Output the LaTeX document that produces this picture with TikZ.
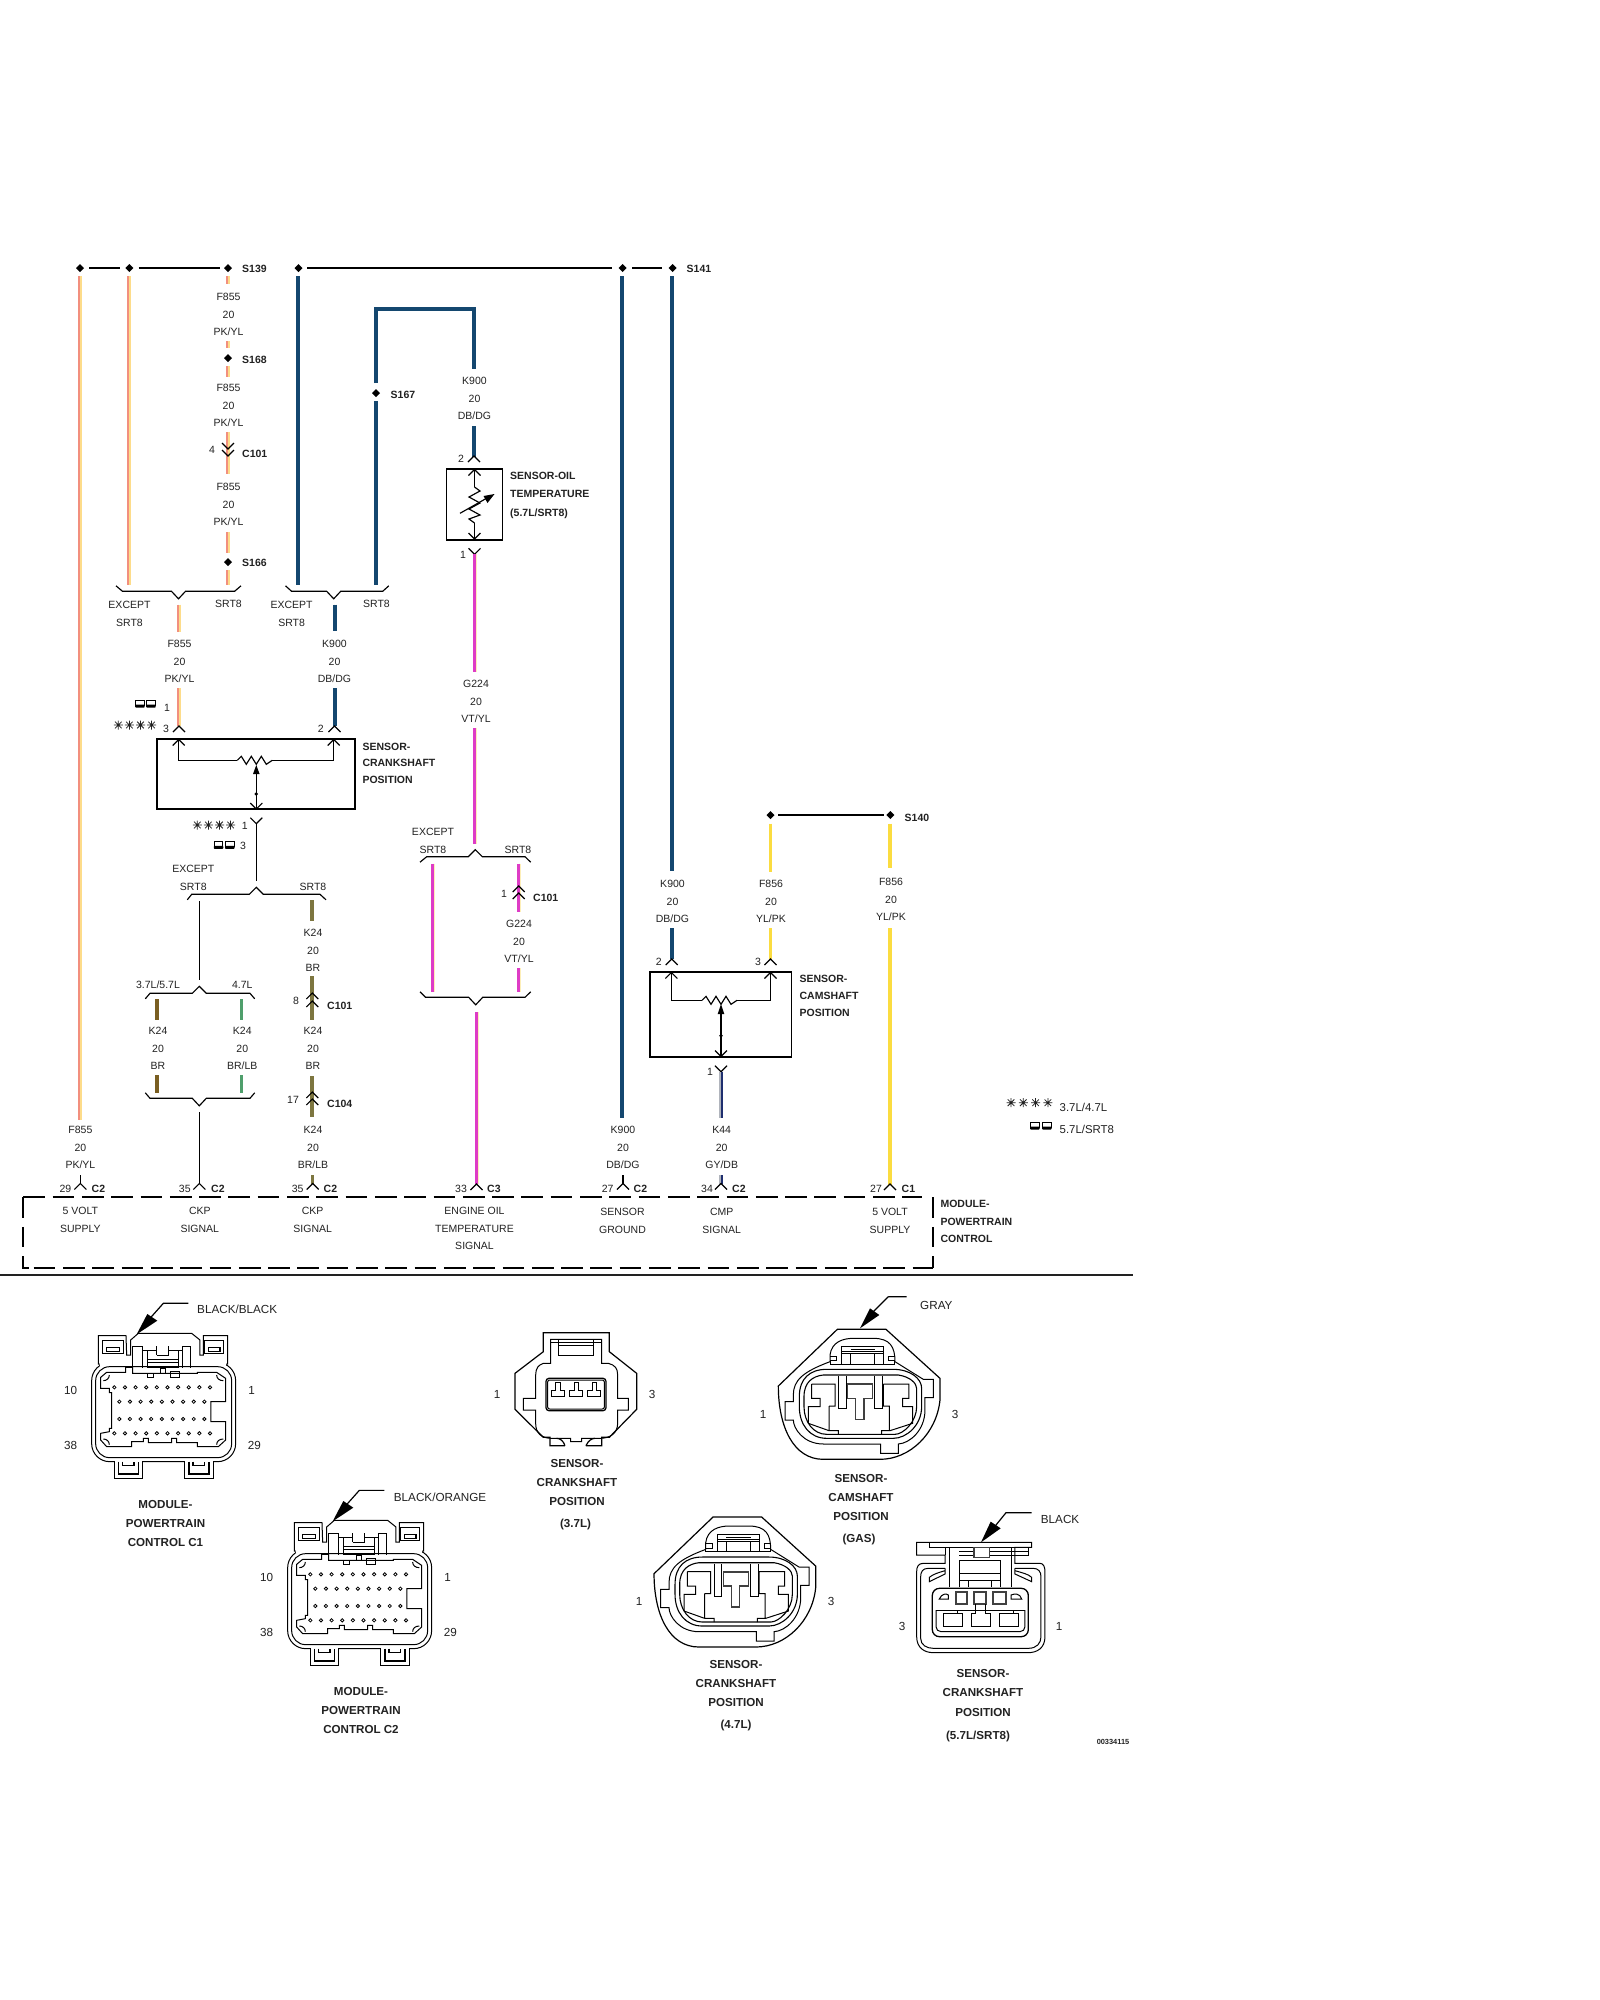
\documentclass[tikz,border=0pt]{standalone}
\usepackage{fontspec}
\setmainfont{Liberation Sans}
\definecolor{pkA}{HTML}{F28F7E}\definecolor{pkB}{HTML}{FDDC8A}
\definecolor{dbA}{HTML}{14476F}\definecolor{vtA}{HTML}{DE3CC6}\definecolor{vtB}{HTML}{FDEFB8}
\definecolor{ylA}{HTML}{FBDC40}\definecolor{olA}{HTML}{7D7640}\definecolor{brA}{HTML}{7A5F22}
\definecolor{grA}{HTML}{4F9F6C}\definecolor{gyA}{HTML}{B0B4BC}\definecolor{gyB}{HTML}{1F2F6F}
\definecolor{ink}{HTML}{222222}
\tikzset{
 lbl/.style={anchor=base,inner sep=0pt,text=ink,yshift=-3.7pt,font=\fontsize{10.5}{12}\selectfont},
 lbb/.style={lbl,font=\fontsize{10.5}{12}\bfseries\selectfont,anchor=base west},
 lbx/.style={anchor=base,inner sep=0pt,text=ink,yshift=-4.1pt,font=\fontsize{11.7}{13}\selectfont},
 lbh/.style={lbx,font=\fontsize{11.6}{13}\bfseries\selectfont},
 thin line/.style={line width=1.1pt,black,line join=miter},
 conn/.style={line width=1.15pt,black,line join=miter},
 bus/.style={line width=2pt,black},
 boxline/.style={line width=1.7pt,black},
 vtw/.style={vtA,line width=3pt},
 vtp/.style={vtB,line width=1.6pt},
 ylw/.style={ylA,line width=1.6pt},
}
\newcounter{tn}
\newcommand\Tl[3]{\stepcounter{tn}\node[lbl] (t\number\value{tn}) at (#1,#2) {#3};}
\newcommand\Bl[3]{\stepcounter{tn}\node[lbb] (t\number\value{tn}) at (#1,#2) {#3};}
\newcommand\Xl[3]{\stepcounter{tn}\node[lbx] (t\number\value{tn}) at (#1,#2) {#3};}
\newcommand\Hl[3]{\stepcounter{tn}\node[lbh] (t\number\value{tn}) at (#1,#2) {#3};}
\newcommand\WL[5]{\Tl{#1}{#2}{#3}\Tl{#1}{#2+17.5}{#4}\Tl{#1}{#2+35}{#5}}
\newcommand\wire[5]{\stepcounter{tn}\coordinate (w\number\value{tn}a) at (#3,#4);\coordinate (w\number\value{tn}b) at (#3,#5);
 \draw[line width=1.9pt,#2] ([xshift=.9pt]w\number\value{tn}a)--([xshift=.9pt]w\number\value{tn}b);
 \draw[line width=1.9pt,#1] ([xshift=-.9pt]w\number\value{tn}a)--([xshift=-.9pt]w\number\value{tn}b);}
\newcommand\splice[2]{\fill[black] (#1-4,#2)--(#1,#2-4)--(#1+4,#2)--(#1,#2+4)--cycle;}
\newcommand\cu[2]{\draw[conn] (#1-6,#2+6)--(#1,#2)--(#1+6,#2+6);}
\newcommand\cd[2]{\draw[conn] (#1-6,#2)--(#1,#2+6)--(#1+6,#2);}
\newcommand\astar[2]{\draw[line width=.75pt,ink] (#1-4.5,#2)--(#1+4.5,#2) (#1,#2-4.5)--(#1,#2+4.5) (#1-3.3,#2-3.3)--(#1+3.3,#2+3.3) (#1-3.3,#2+3.3)--(#1+3.3,#2-3.3);}
\newcommand\stars[3]{\astar{#1}{#2}\astar{#1+#3}{#2}\astar{#1+2*#3}{#2}\astar{#1+3*#3}{#2}}
\newcommand\ibox[2]{\draw[line width=.8pt,black] (#1,#2) rectangle (#1+8.5,#2+5);\fill[black,rounded corners=.8pt] (#1-.5,#2+4.5) rectangle (#1+9,#2+7.6);}
\newcommand\icons[3]{\ibox{#1}{#2}\ibox{#1+#3}{#2}}
\newcommand\zz[3]{\draw[conn] (#1,#3)--(#1+4,#3-4)--(#1+9,#3+4)--(#1+14,#3-4)--(#1+19,#3+4)--(#1+24,#3-4)--(#1+29,#3+4)--(#2,#3);}
\newcommand\brkD[7]{% x0 x1 xm xr0 xr1 y dir: horizontal bracket
 \draw[conn] (#1,#6+#7*5.5)--(#2,#6)--(#3-7,#6)--(#3,#6+#7*-7.5)--(#3+7,#6)--(#4,#6)--(#5,#6+#7*5.5);}
\newcommand\brkU[7]{\draw[conn] (#1,#6+#7*5.5)--(#2,#6)--(#3-7,#6)--(#3,#6-#7*7)--(#3+7,#6)--(#4,#6)--(#5,#6+#7*5.5);}
%
\newcommand\pmconn[2]{\begin{scope}[shift={(#1,#2)},x=.3333pt,y=-.3333pt,line width=1pt,line join=miter]
 \draw[rounded corners=18pt] (95,218) rectangle (527,515);
 \draw[rounded corners=14pt] (107,230) rectangle (515,503);
 \filldraw[fill=white] (115,222)--(115,137)--(198,137)--(200,195)--(212,195)--(212,150)--(235,130)--(395,130)--(420,150)--(420,195)--(430,195)--(430,137)--(503,137)--(503,222)--(420,222)--(212,222)--cycle;
 \draw[white,line width=4pt] (120,223)--(498,223);
 \draw[line width=1.5pt] (128,152) rectangle (190,190) (432,152) rectangle (490,190);
 \draw[line width=1.3pt] (140,172) rectangle (178,185) (445,172) rectangle (480,185);
 \draw (218,235)--(218,168)--(248,168)--(248,182)--(290,182)--(290,168) (290,195)--(325,195)--(325,168) (290,182)--(290,195) (325,182)--(368,182)--(368,168)--(392,168)--(392,235);
 \draw (248,182)--(248,235) (368,182)--(368,235) (262,182)--(262,235) (355,182)--(355,235);
 \draw (262,208)--(355,208) (262,218)--(355,218) (262,232)--(355,232);
 \draw (262,250)--(262,262)--(282,262)--(282,250) (302,235) rectangle (318,250);
 \draw[line width=1.4pt] (332,245) rectangle (358,263);
 \draw (122,295)--(122,262)--(140,247)--(197,247)--(197,232)--(218,232)--(218,250)--(412,250)--(412,247)--(470,247)--(497,265)--(497,335)--(453,335)--(453,395)--(497,395)--(497,450)--(475,470)--(412,470)--(412,458)--(350,458)--(350,445)--(335,445)--(335,458)--(265,458)--(265,445)--(250,445)--(250,455)--(215,455)--(215,470)--(140,470)--(122,450)--(122,430)--(148,425)--(148,415)--(155,415)--(155,308)--(148,308)--(148,295)--cycle;
 \draw (130,272)..controls (140,272) and (148,265)..(148,255) (490,272)..controls (478,272) and (470,265)..(470,255) (130,447)..controls (140,447) and (148,454)..(148,464) (490,447)..controls (478,447) and (470,454)..(470,464);
 \foreach \yy in {292,430}{\foreach \i in {0,...,9}{\draw[line width=.8pt] ({163+\i*31.9-5},\yy)--({163+\i*31.9},\yy-5)--({163+\i*31.9+5},\yy)--({163+\i*31.9},\yy+5)--cycle;}}
 \foreach \yy in {335,387}{\foreach \i in {0,...,8}{\draw[line width=.8pt] ({178+\i*31.9-5},\yy)--({178+\i*31.9},\yy-5)--({178+\i*31.9+5},\yy)--({178+\i*31.9},\yy+5)--cycle;}}
 \foreach \dx in {0,212}{\begin{scope}[xshift=\dx*.3333pt]
  \filldraw[fill=white] (163,514)--(163,565)--(248,565)--(248,514);
  \draw[line width=1.5pt] (175,515)--(175,552)--(235,552)--(235,515);
  \draw[line width=1.3pt] (187,515)--(187,527)--(222,527)--(222,515);\end{scope}}
 \draw[line width=1.2pt] (385,40)--(310,40)--(270,85);
 \fill[black] (230,133)--(262,72)--(292,92)--cycle;
\end{scope}}
%
\newcommand\gasconn[3]{\begin{scope}[shift={(#1,#2)},x=.3333pt,y=-.3333pt,line width=1pt,line join=miter]
 \draw[line width=1.2pt] (55,258)--(232,88)--(378,88)--(540,235)--(540,300)..controls (530,400) and (450,478)..(360,478)--(190,478)..controls (100,478) and (55,380)..(55,258)--cycle;
 \draw (75,305)--(100,305)--(100,285)..controls (100,240) and (130,215)..(210,185)--(210,165)..controls (215,125) and (250,115)..(280,115)--(340,115)..controls (390,115) and (405,140)..(405,185)--(490,238)--(520,238)--(520,293)--(495,293)--(495,330)..controls (495,390) and (450,430)..(415,432)--(415,460)--(362,460)--(362,432)--(190,432)..controls (130,432) and (100,385)..(100,360)--(75,360)--cycle;
 \draw[line width=1.1pt] (118,290)..controls (118,235) and (150,208)..(200,208)--(400,208)..controls (450,208) and (485,235)..(485,265)--(485,320)..controls (485,375) and (440,415)..(400,415)--(200,415)..controls (150,415) and (118,375)..(118,320)--cycle;
 \draw[line width=1.1pt] (132,290)..controls (132,245) and (160,228)..(190,225)--(415,225)..controls (450,230) and (470,250)..(470,265)--(470,320)..controls (470,365) and (430,403)..(405,403)--(200,403)..controls (160,403) and (132,365)..(132,320)--cycle;
 \draw (155,252)--(225,252)--(225,318)--(207,318) (155,252)--(155,295)--(180,295)--(180,320)--(145,320)--(145,370)--(207,392)--(235,392)--(235,403) (207,318)--(207,392);
 \draw (370,252)--(447,252)--(447,295)--(428,295)--(428,320)--(458,320)--(458,370)--(390,392)--(365,392)--(365,403) (370,252)--(370,318)--(388,318)--(388,392);
 \draw[line width=1.6pt,black!75] (263,252)--(338,252)--(338,295)--(312,295)--(312,358)--(287,358)--(287,295)--(263,295)--cycle;
 \draw (235,228)--(235,325)--(258,325)--(258,228) (345,228)--(345,325)--(368,325)--(368,228);
 \draw (245,192)--(245,140)--(370,140)--(370,192) (272,148)--(345,148) (245,160)--(370,160) (272,160)--(272,192) (345,160)--(345,192);
 \draw[line width=1.4pt] (245,155)--(370,155);
 \draw (210,168)--(230,168)--(230,182)--(210,182)--(210,192)--(405,192)--(405,182)--(385,182)--(385,168)--(405,168);
\end{scope}}
%
\begin{document}
\begin{tikzpicture}[x=1pt,y=-1pt]
\fill[white] (0,0) rectangle (1600,2000);
\useasboundingbox (0,0) rectangle (1600,2000);
% top bus
\draw[bus] (89,268)--(120,268) (138.5,268)--(220,268) (307,268)--(612,268) (632,268)--(662,268);
\splice{80}{268}\splice{129.4}{268}\splice{228}{268}\splice{298.5}{268}\splice{622.5}{268}\splice{672.5}{268}
\Bl{242}{268.5}{S139}\Bl{686.5}{268.5}{S141}
% left wires
\wire{pkA}{pkB}{80}{276}{1120}
\wire{pkA}{pkB}{129}{276}{585}
\wire{pkA}{pkB}{228}{276}{284}
\WL{228.5}{297}{F855}{20}{PK/YL}
\wire{pkA}{pkB}{228}{341}{348}
\splice{228}{358}\Bl{242}{360}{S168}
\wire{pkA}{pkB}{228}{366}{377}
\WL{228.5}{388}{F855}{20}{PK/YL}
\wire{pkA}{pkB}{228}{432}{474}
\cd{228}{443}\cd{228}{450}
\Tl{212}{450}{4}\Bl{242}{453.5}{C101}
\WL{228.5}{487}{F855}{20}{PK/YL}
\wire{pkA}{pkB}{228}{532}{553}
\splice{228}{562}\Bl{242}{563}{S166}
\wire{pkA}{pkB}{228}{570}{585}
\brkD{116}{122.5}{178.5}{234.6}{241}{591.3}{-1}
\Tl{129.5}{605}{EXCEPT}\Tl{129.5}{622.5}{SRT8}\Tl{228.5}{604}{SRT8}
\wire{pkA}{pkB}{179}{604.5}{632}
\WL{179.5}{644}{F855}{20}{PK/YL}
\wire{pkA}{pkB}{179}{688}{726}
\cu{179}{726}
\icons{135.7}{700}{11}\Tl{167}{708}{1}
\stars{118.3}{725}{11.1}\Tl{166}{729}{3}
% blue
\wire{dbA}{dbA}{298}{276}{585}
\draw[dbA,line width=3.8pt,line join=miter] (376,383)--(376,309)--(474,309)--(474,369);
\splice{376}{393}\Bl{390.5}{394.5}{S167}
\wire{dbA}{dbA}{376}{401}{585}
\WL{474.5}{381}{K900}{20}{DB/DG}
\wire{dbA}{dbA}{474}{426}{457}
\cu{474}{456}\Tl{461}{459}{2}
\brkD{285.5}{291.6}{333.7}{382.7}{388.8}{591.3}{-1}
\Tl{291.6}{605}{EXCEPT}\Tl{291.6}{622.5}{SRT8}\Tl{376.5}{604}{SRT8}
\wire{dbA}{dbA}{335}{604.5}{631}
\WL{334.5}{644}{K900}{20}{DB/DG}
\wire{dbA}{dbA}{335}{688}{726}
\cu{334.5}{726}\Tl{320.7}{729}{2}
% oil sensor
\draw[boxline] (446.6,469) rectangle (502.5,539.7);
\cu{474.5}{469.5}\cd{474.5}{533}
\draw[conn] (474.5,469.5)--(474.5,487) (474.5,523)--(474.5,539);
\draw[conn] (474.5,487)--(480,491)--(469,497)--(480,503)--(469,509)--(480,515)--(469,519)--(474.5,523);
\draw[conn] (460,513.3)--(487,498);
\fill[black] (494.5,494)--(483.5,496)--(487.5,503)--cycle;
\Bl{510}{476}{SENSOR-OIL}\Bl{510}{493.5}{TEMPERATURE}\Bl{510}{513}{(5.7L/SRT8)}
\cd{474.5}{548.3}\Tl{463}{555}{1}
\wire{vtw}{vtp}{475.3}{554}{672}
\WL{476}{684}{G224}{20}{VT/YL}
\wire{vtw}{vtp}{475.3}{728}{844}
\brkU{420}{426.7}{475.3}{525}{530.7}{856.7}{1}
\Tl{433}{832}{EXCEPT}\Tl{433}{849.5}{SRT8}\Tl{518}{849.5}{SRT8}
\wire{vtw}{vtp}{433.2}{863.5}{992}
\wire{vtw}{vtp}{519.6}{863.5}{912}
\cu{518.7}{886}\cu{518.7}{893}
\Tl{504}{894}{1}\Bl{533}{897.5}{C101}
\WL{519}{924}{G224}{20}{VT/YL}
\wire{vtw}{vtp}{519.6}{968}{992}
\brkD{420}{425.5}{475.7}{525}{530.7}{997.3}{-1}
\wire{vtw}{vtp}{477.4}{1012}{1184}
% crank sensor
\draw[boxline] (157.3,739.3) rectangle (355,809.3);
\cu{178.7}{739.5}\cu{333.7}{739.5}
\draw[conn] (178.7,739.5)--(178.7,760.3)--(237.3,760.3);
\draw[conn] (333.7,739.5)--(333.7,760.3)--(272.3,760.3);
\zz{237.3}{272.3}{760.3}
\draw[conn] (256.3,770)--(256.3,809);
\fill[black] (256.3,765)--(253,774)--(259.6,774)--cycle;
\fill[black] (256.3,794) circle (1.9);
\cd{256.3}{803}
\Bl{362.3}{746.3}{SENSOR-}\Bl{362.3}{763}{CRANKSHAFT}\Bl{362.3}{780}{POSITION}
\cd{256.3}{817.7}
\draw[thin line] (256.3,823.7)--(256.3,881);
\stars{197.3}{825}{11.1}\Tl{244.7}{825.5}{1}
\icons{214.3}{841.3}{11.2}\Tl{243}{846}{3}
\brkU{187.3}{191.7}{256.3}{320}{326}{894.3}{1}
\Tl{193.3}{869}{EXCEPT}\Tl{193.3}{886.5}{SRT8}\Tl{313}{886.5}{SRT8}
\draw[thin line] (199.3,901)--(199.3,980);
\wire{olA}{olA}{312.3}{900}{921}
\WL{313}{933}{K24}{20}{BR}
\wire{olA}{olA}{312.3}{976}{1020}
\cu{312.3}{993}\cu{312.3}{1001}
\Tl{296}{1001}{8}\Bl{327}{1005.5}{C101}
\WL{313}{1031}{K24}{20}{BR}
\wire{olA}{olA}{312.3}{1076}{1117}
\cu{312.3}{1092}\cu{312.3}{1099}
\Tl{293}{1100}{17}\Bl{327}{1103.5}{C104}
\WL{313}{1130}{K24}{20}{BR/LB}
\wire{olA}{olA}{312.5}{1175}{1184}
\brkU{145.3}{150}{199.3}{250}{254.7}{993.3}{1}
\Tl{158}{985}{3.7L/5.7L}\Tl{242.3}{985}{4.7L}
\wire{brA}{brA}{157.3}{999}{1020}
\wire{grA,line width=1.5pt}{grA,line width=1.5pt}{241.7}{999}{1020}
\WL{158}{1031}{K24}{20}{BR}
\WL{242.3}{1031}{K24}{20}{BR/LB}
\wire{brA}{brA}{157.3}{1075}{1093.3}
\wire{grA,line width=1.5pt}{grA,line width=1.5pt}{241.7}{1075}{1093.3}
\brkD{145.3}{150}{199.3}{250}{254.7}{1098.3}{-1}
\draw[thin line] (199.3,1112)--(199.3,1183);
% bottom connectors
\WL{80.4}{1130}{F855}{20}{PK/YL}
\draw[thin line] (80.4,1175)--(80.4,1184);\cu{80.4}{1183.5}
\Tl{65.4}{1188.5}{29}\Bl{91.5}{1188.5}{C2}
\cu{199.4}{1183.5}\Tl{184.8}{1188.5}{35}\Bl{211}{1188.5}{C2}
\cu{312.7}{1183.5}\Tl{297.7}{1188.5}{35}\Bl{323.5}{1188.5}{C2}
\cu{476.5}{1184}\Tl{461}{1189}{33}\Bl{487}{1188.5}{C3}
\WL{623}{1130}{K900}{20}{DB/DG}
\draw[thin line] (623,1175)--(623,1184);\cu{623}{1183.5}
\Tl{607.7}{1189}{27}\Bl{633.5}{1188.5}{C2}
\wire{dbA}{dbA}{622}{276}{1118}
\wire{dbA}{dbA}{671.7}{276}{871}
\WL{672.5}{884}{K900}{20}{DB/DG}
\wire{dbA}{dbA}{671.7}{928}{959}
\cu{671.7}{959}\Tl{658.8}{962}{2}
% S140
\draw[bus] (778,815)--(884,815);
\splice{770.5}{815}\splice{890.4}{815}\Bl{904.5}{817.5}{S140}
\wire{ylw}{ylw}{770.3}{823.5}{872}
\wire{ylw}{ylw}{890}{823.5}{868}
\WL{771}{884}{F856}{20}{YL/PK}
\WL{891}{882}{F856}{20}{YL/PK}
\wire{ylw}{ylw}{770.3}{928}{959}
\cu{770.5}{959}\Tl{758}{962}{3}
\wire{ylw}{ylw}{890}{928}{1185}
\cu{890}{1184}\Tl{876}{1189}{27}\Bl{901.5}{1188.5}{C1}
% cam sensor
\draw[boxline] (650.3,972.3) rectangle (791.6,1056.7);
\cu{671.4}{972.5}\cu{770.5}{972.5}
\draw[conn] (671.4,972.5)--(671.4,1000.3)--(702,1000.3);
\draw[conn] (770.5,972.5)--(770.5,1000.3)--(737,1000.3);
\zz{702}{737}{1000.3}
\draw[conn] (721,1010)--(721,1056);
\fill[black] (721,1004)--(717.7,1014)--(724.3,1014)--cycle;
\fill[black] (721,1035.7) circle (1.9);
\cd{721}{1050.5}
\Bl{799.4}{979}{SENSOR-}\Bl{799.4}{996}{CAMSHAFT}\Bl{799.4}{1013}{POSITION}
\cd{721}{1065.7}\Tl{710}{1072}{1}
\wire{gyA}{gyB}{721}{1071.7}{1118}
\WL{721.7}{1130}{K44}{20}{GY/DB}
\wire{gyA}{gyB}{721}{1175}{1184}
\cu{721}{1183.5}\Tl{707}{1189}{34}\Bl{732}{1188.5}{C2}
% legend
\stars{1011}{1102.7}{12.3}\stepcounter{tn}\node[lbl,anchor=base west,font=\fontsize{11.4}{13}\selectfont] (t\number\value{tn}) at (1059.5,1107.7) {3.7L/4.7L};
\icons{1030.6}{1122}{12}\stepcounter{tn}\node[lbl,anchor=base west,font=\fontsize{11.4}{13}\selectfont] (t\number\value{tn}) at (1059.5,1129.7) {5.7L/SRT8};
% module box
\draw[line width=2pt,dash pattern=on 21.7pt off 7.6pt] (23.3,1197.3)--(922,1197.3);
\draw[line width=2pt,dash pattern=on 21.7pt off 7.6pt] (33.7,1268.3)--(932.6,1268.3);
\draw[line width=2pt,dash pattern=on 20.5pt off 9pt] (23.3,1197.3)--(23.3,1268.3)--(29,1268.3);
\draw[line width=2pt,dash pattern=on 20.5pt off 9pt] (932.6,1197.3)--(932.6,1268.3);
\draw[line width=1.5pt,ink] (0,1274.8)--(1133,1274.8);
\Tl{80.4}{1211}{5 VOLT}\Tl{80.4}{1228.5}{SUPPLY}
\Tl{199.8}{1211}{CKP}\Tl{199.8}{1228.5}{SIGNAL}
\Tl{312.7}{1211}{CKP}\Tl{312.7}{1228.5}{SIGNAL}
\Tl{474.5}{1211}{ENGINE OIL}\Tl{474.5}{1228.5}{TEMPERATURE}\Tl{474.5}{1246}{SIGNAL}
\Tl{622.5}{1212}{SENSOR}\Tl{622.5}{1229.5}{GROUND}
\Tl{721.7}{1212}{CMP}\Tl{721.7}{1229.5}{SIGNAL}
\Tl{890}{1212}{5 VOLT}\Tl{890}{1229.5}{SUPPLY}
\Bl{940.3}{1204}{MODULE-}\Bl{940.3}{1222}{POWERTRAIN}\Bl{940.3}{1239}{CONTROL}
% PCM connectors
\pmconn{60}{1290}
\Xl{70.7}{1390.7}{10}\Xl{251.7}{1390.7}{1}\Xl{70.7}{1445.7}{38}\Xl{254.3}{1445}{29}
\stepcounter{tn}\node[lbx,anchor=base west] (t\number\value{tn}) at (197,1309) {BLACK/BLACK};
\Hl{165.5}{1504.3}{MODULE-}\Hl{165.5}{1523.3}{POWERTRAIN}\Hl{165.5}{1542.3}{CONTROL C1}
\pmconn{256}{1477}
\Xl{266.7}{1577.7}{10}\Xl{447.7}{1577.7}{1}\Xl{266.7}{1632.7}{38}\Xl{450.3}{1632}{29}
\stepcounter{tn}\node[lbx,anchor=base west] (t\number\value{tn}) at (393.7,1497) {BLACK/ORANGE};
\Hl{361}{1691.3}{MODULE-}\Hl{361}{1710.3}{POWERTRAIN}\Hl{361}{1729.3}{CONTROL C2}
% 3.7L
\begin{scope}[shift={(500,1310)},x=.3333pt,y=-.3333pt,line width=1pt,line join=miter]
 \draw[line width=1.2pt] (258,407)--(305,407)--(305,382)--(328,382)--(410,298)--(410,190)--(328,125)--(328,68)--(130,68)--(130,125)--(45,190)--(45,298)--(130,382)--(150,382)--(150,407)--(195,407);
 \draw[line width=1.2pt] (258,407)..controls (265,392) and (275,385)..(285,385) (195,407)..controls (190,392) and (180,385)..(170,385);
 \draw (152,160)--(152,88)--(305,88)--(305,160)--(325,160)..controls (345,165) and (353,175)..(353,195)--(353,265)--(385,265)--(385,300)--(353,300)--(353,340)..controls (353,370) and (330,385)..(300,385)--(245,385)--(245,395)--(212,395)--(212,385)--(155,385)..controls (125,385) and (107,370)..(107,340)--(107,300)--(70,300)--(70,265)--(107,265)--(107,195)..controls (107,175) and (115,165)..(130,160)--cycle;
 \draw (175,88)--(175,135)--(280,135)--(280,88) (152,98)--(305,98) (175,105)--(280,105);
 \draw[line width=1.3pt,rounded corners=3pt] (138,205) rectangle (318,302);
 \draw[rounded corners=2pt] (143,210) rectangle (313,297);
 \foreach \dx in {0,56,110}{\begin{scope}[xshift=\dx*.3333pt]\draw (167,218)--(181,218)--(181,242)--(193,242)--(193,258)--(153,258)--(153,242)--(167,242)--cycle;\end{scope}}
\end{scope}
\Xl{497}{1394}{1}\Xl{652}{1394}{3}
\Hl{577}{1463}{SENSOR-}\Hl{577}{1482}{CRANKSHAFT}\Hl{577}{1501}{POSITION}\Hl{575.5}{1523}{(3.7L)}
% gas cam
\gasconn{760}{1300}{}
\begin{scope}[shift={(760,1300)},x=.3333pt,y=-.3333pt]
 \draw[line width=1.2pt] (385,-10)--(440,-10) (385,-10)--(340,35);
 \fill[black] (300,85)--(330,25)--(358,45)--cycle;
\end{scope}
\Xl{763}{1414}{1}\Xl{955}{1414}{3}
\stepcounter{tn}\node[lbx,anchor=base west] (t\number\value{tn}) at (920,1305.7) {GRAY};
\Hl{861}{1478}{SENSOR-}\Hl{861}{1497}{CAMSHAFT}\Hl{861}{1516}{POSITION}\Hl{859}{1538}{(GAS)}
% 4.7L
\gasconn{635.7}{1487.7}{}
\Xl{639}{1601.7}{1}\Xl{831}{1601.7}{3}
\Hl{736}{1664}{SENSOR-}\Hl{736}{1683}{CRANKSHAFT}\Hl{736}{1702}{POSITION}\Hl{736}{1724}{(4.7L)}
% 5.7L
\begin{scope}[shift={(900,1500)},x=.3333pt,y=-.3333pt,line width=1pt,line join=miter]
 \draw[line width=1.2pt] (395,38)--(318,38)--(280,85);
 \fill[black] (243,127)--(272,65)--(302,85)--cycle;
 \draw (50,165)--(50,127)--(395,127)--(395,142)--(345,142)--(345,190)--(420,190)..controls (430,190) and (435,200)..(435,215)--(435,410)..controls (435,445) and (410,458)..(385,458)--(100,458)..controls (75,458) and (50,445)..(50,410)--(50,215)..controls (50,200) and (55,190)..(70,190)--(135,190)--(135,165)--cycle;
 \draw (88,127)--(88,142)--(135,142)--(135,165) (135,142)--(222,142) (268,142)--(345,142);
 \draw (135,205)--(85,205)..controls (68,205) and (62,215)..(62,230)--(62,415)..controls (62,435) and (80,445)..(100,445)--(385,445)..controls (410,445) and (423,430)..(423,410)--(423,230)..controls (423,215) and (415,205)..(400,205)--(345,205);
 \draw (135,205)--(135,222)--(88,245)--(88,232)..controls (100,222) and (115,218)..(135,212) (345,205)--(345,222)--(395,245)--(395,232)..controls (385,222) and (365,218)..(345,212);
 \draw (148,142)--(148,262) (335,142)--(335,262);
 \draw (178,262)--(178,182)--(300,182)--(300,262) (178,220)--(300,220) (178,240)--(300,240) (205,240)--(205,262) (275,240)--(275,262);
 \draw (178,155)--(385,155) (178,167)--(385,167) (345,167)--(385,167)--(385,142);
 \filldraw[fill=white,line width=1.6pt,draw=black!75] (222,142) rectangle (268,172);
 \draw[line width=1.3pt,rounded corners=7pt] (97,265) rectangle (385,410);
 \draw[rounded corners=5pt] (108,330)--(108,395)--(375,395)--(375,330);
 \draw (108,330)--(375,330);
 \draw[line width=1.7pt,black!75] (168,277) rectangle (202,313) (223,277) rectangle (258,313) (280,277) rectangle (317,313);
 \draw (118,297)..controls (125,280) and (140,280)..(145,285)--(145,297)--cycle (365,297)..controls (360,280) and (345,280)..(333,285)--(333,297)--cycle;
 \draw (130,340)--(172,340)--(172,330) (130,340)--(130,378)--(188,378)--(188,340)--(172,340);
 \draw (225,313)--(225,340)--(215,340)--(215,378)--(270,378)--(270,340)--(255,340)--(255,313);
 \draw (297,340)--(297,378)--(355,378)--(355,340)--(340,340)--(340,330) (297,340)--(340,340);
\end{scope}
\Xl{902}{1626}{3}\Xl{1059}{1626}{1}
\stepcounter{tn}\node[lbx,anchor=base west] (t\number\value{tn}) at (1040.7,1519) {BLACK};
\Hl{983}{1673.3}{SENSOR-}\Hl{983}{1692.7}{CRANKSHAFT}\Hl{983}{1712}{POSITION}\Hl{978}{1735}{(5.7L/SRT8)}
\stepcounter{tn}\node[lbl,font=\fontsize{7.4}{8}\bfseries\selectfont] (t\number\value{tn}) at (1113,1741) {00334115};
\end{tikzpicture}
\end{document}
